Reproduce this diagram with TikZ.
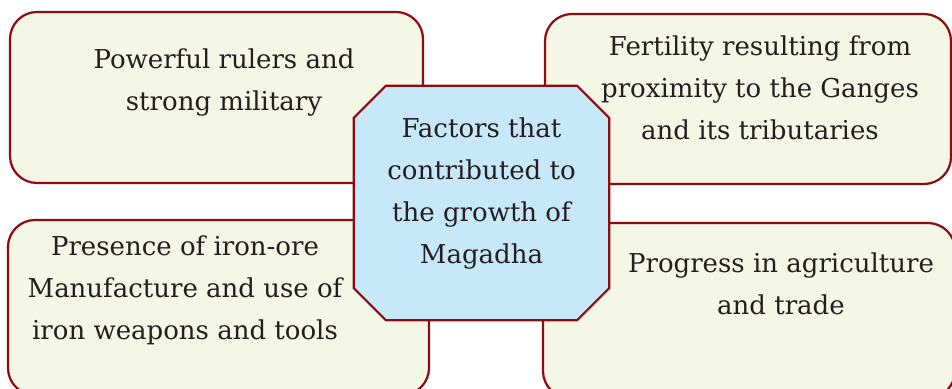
\documentclass[tikz,border=0pt]{standalone}
\usepackage{fontspec}
\setmainfont{DejaVu Serif}
\definecolor{bordred}{HTML}{8E0B10}
\definecolor{creamfill}{HTML}{F4F6E6}
\definecolor{bluefill}{HTML}{C6E8F8}
\definecolor{txtgray}{HTML}{231F20}
\tikzset{
  factorbox/.style={draw=bordred, fill=creamfill, line width=2.2pt, rounded corners=27pt, inner sep=0pt},
  hubbox/.style={inner sep=0pt, minimum width=255pt, minimum height=234pt},
  hubline/.style={draw=bordred, fill=bluefill, line width=2.2pt},
  label/.style={text=txtgray, align=center, font=\fontsize{26}{42}\selectfont, inner sep=0pt}
}
\begin{document}
\begin{tikzpicture}[x=1pt,y=-1pt]
\useasboundingbox (0,0) rectangle (952,388);
\clip (0,0) rectangle (952,388);
\fill[white] (0,0) rectangle (952,388);
\node[factorbox, minimum width=413pt, minimum height=171pt] (tl) at (216.5,97.5) {};
\node[factorbox, minimum width=406pt, minimum height=170pt] (tr) at (748,99) {};
\node[factorbox, minimum width=421pt, minimum height=175pt] (bl) at (218.5,307.5) {};
\node[factorbox, minimum width=412pt, minimum height=175pt] (br) at (749,310.5) {};
\node[hubbox] (hub) at (481.5,203) {};
\path[hubline] ([xshift=32pt]hub.north west) -- ([xshift=-32pt]hub.north east)
  -- ([yshift=-32pt]hub.north east) -- ([yshift=32pt]hub.south east)
  -- ([xshift=-32pt]hub.south east) -- ([xshift=32pt]hub.south west)
  -- ([yshift=32pt]hub.south west) -- ([yshift=-32pt]hub.north west) -- cycle;
\node[label] (tltext) at (224,83) {Powerful rulers and\\strong military};
\node[label] (trtext) at (760,88) {Fertility resulting from\\proximity to the Ganges\\and its tributaries};
\node[label] (hubtext) at (481.5,194) {Factors that\\contributed to\\the growth of\\Magadha};
\node[label] (bltext) at (185,290) {Presence of iron-ore\\Manufacture and use of\\iron weapons and tools};
\node[label] (brtext) at (781,284) {Progress in agriculture\\and trade};
\end{tikzpicture}
\end{document}
